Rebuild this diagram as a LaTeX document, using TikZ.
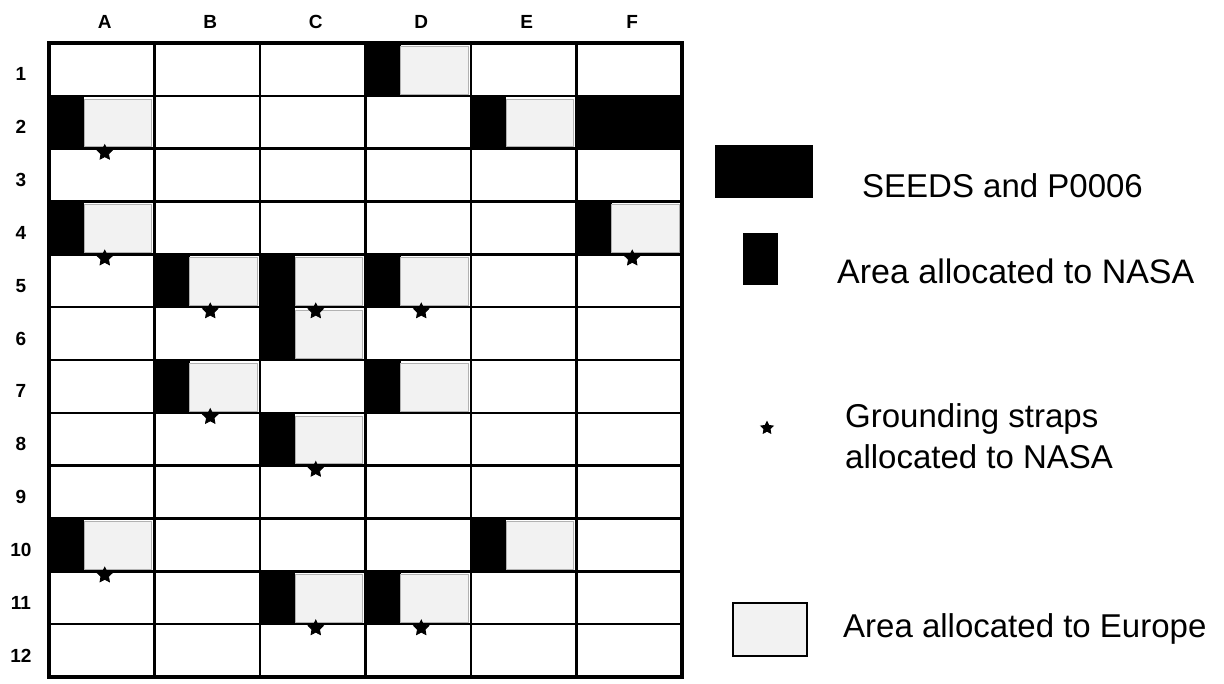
\documentclass[tikz,border=0pt]{standalone}
\usepackage{fontspec}
\setmainfont{Liberation Sans}
\usetikzlibrary{shapes.geometric,calc}
\def\cw{105.5}
\def\rh{52.83}
\begin{document}
\begin{tikzpicture}[x=1pt,y=-1pt,
  cell/.style={draw=black,line width=2.5pt,minimum width=\cw pt,minimum height=\rh pt,inner sep=0pt,outer sep=0pt},
  europe/.style={fill=black!5,draw=black!30,line width=0.6pt},
  strap/.style={star,star points=5,star point ratio=2.0,fill=black,draw=black,line width=0.8pt,inner sep=0pt,minimum size=16pt},
  collab/.style={font=\fontsize{19}{22}\selectfont\bfseries,inner sep=0pt},
  legtext/.style={font=\fontsize{33}{41}\selectfont,inner sep=0pt,align=left}]
\useasboundingbox (0,0) rectangle (1224,683);
\fill[white] (0,0) rectangle (1224,683);
% NASA + Europe areas
\foreach \i/\j in {4/1,1/2,5/2,1/4,6/4,2/5,3/5,4/5,3/6,2/7,4/7,3/8,1/10,5/10,3/11,4/11}{
  \fill[black] ({49+\cw*(\i-1)},{43+\rh*(\j-1)}) rectangle ++(35,\rh);
  \filldraw[europe] ({49+\cw*(\i-1)+35},{43+\rh*(\j-1)+3}) rectangle ({49+\cw*\i-3},{43+\rh*\j-2});
}
% SEEDS and P0006 in F2
\fill[black] ({49+\cw*5},{43+\rh}) rectangle ++(\cw,\rh);
% grid cells
\foreach \i in {1,...,6}{
  \foreach \j in {1,...,12}{
    \node[cell] (c\i-\j) at ({49+\cw*(\i-0.5)},{43+\rh*(\j-0.5)}) {};
  }
}
\draw[line width=4pt] (c1-1.north west) rectangle (c6-12.south east);
% labels
\foreach \l [count=\i] in {A,B,C,D,E,F}{
  \node[collab] (col\l) at ({49+\cw*(\i-0.5)+3},22) {\l};
}
\foreach \j in {1,...,12}{
  \node[collab] (row\j) at (21,{43+\rh*(\j-0.5)+5}) {\j};
}
% grounding straps
\foreach \i/\j in {1/2,1/4,6/4,2/5,3/5,4/5,2/7,3/8,1/10,3/11,4/11}{
  \node[strap] (s\i-\j) at ($(c\i-\j.south)+(3,4)$) {};
}
% legend
\node[fill=black,minimum width=98pt,minimum height=53pt,inner sep=0pt] (kseeds) at (764,171.5) {};
\node[legtext,anchor=base west] (tseeds) at (862,197) {SEEDS and P0006};
\node[fill=black,minimum width=35pt,minimum height=52pt,inner sep=0pt] (knasa) at (760.5,259) {};
\node[legtext,anchor=base west,font=\fontsize{34}{41}\selectfont] (tnasa) at (837,283) {Area allocated to NASA};
\node[strap,minimum size=13pt] (kstrap) at (767,428) {};
\node[legtext,anchor=base west] (tstrap) at (845,468) {Grounding straps\\allocated to NASA};
\node[fill=black!5,draw=black,line width=2pt,minimum width=74pt,minimum height=53pt,inner sep=0pt] (keurope) at (770,629.5) {};
\node[legtext,anchor=base west] (teurope) at (843,637) {Area allocated to Europe};
\end{tikzpicture}
\end{document}
